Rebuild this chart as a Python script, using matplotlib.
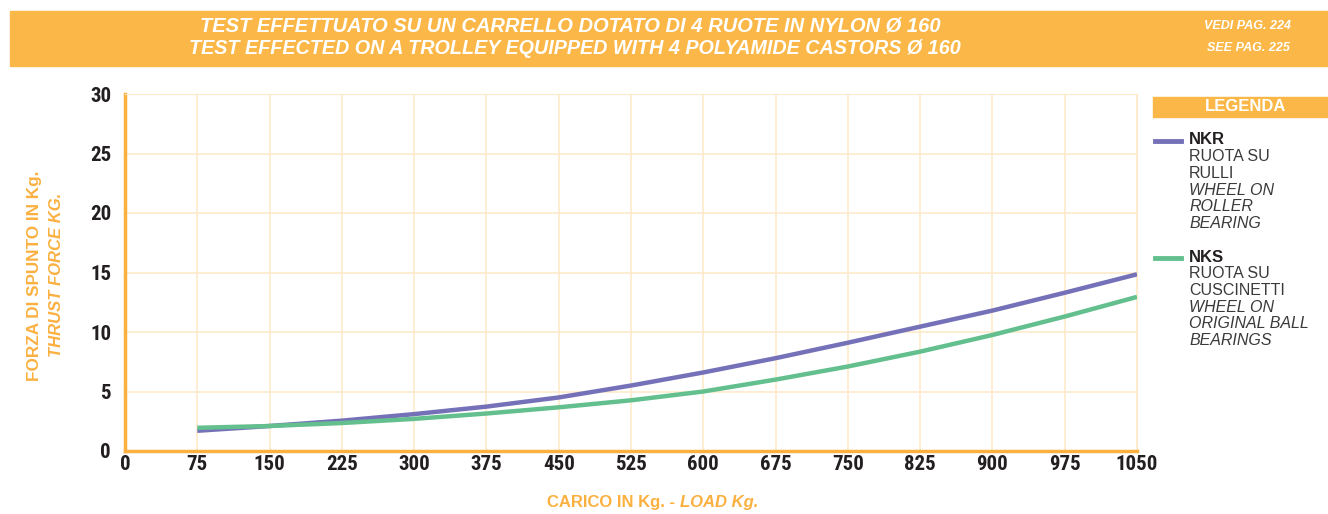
import matplotlib.pyplot as plt
from matplotlib.patches import Rectangle

# dati
carico = [75, 150, 225, 300, 375, 450, 525, 600, 675, 750, 825, 900, 975, 1050]
nkr = [1.7, 2.1, 2.55, 3.1, 3.73, 4.5, 5.5, 6.6, 7.8, 9.1, 10.45, 11.8, 13.3, 14.85]
nks = [1.95, 2.1, 2.35, 2.7, 3.15, 3.67, 4.26, 5.0, 6.0, 7.1, 8.35, 9.75, 11.3, 12.95]
xticks = list(range(0, 1051, 75))
yticks = list(range(0, 31, 5))

ARANCIO = '#FBB848'
ASSE = '#FBB040'
GRIGLIA = '#FDEACB'
VIOLA = '#7571B9'
VERDE = '#63C08E'
COND = ['Roboto Condensed', 'Archivo Narrow', 'Liberation Sans', 'DejaVu Sans']
SANS = ['Liberation Sans', 'DejaVu Sans']

W, H = 1328, 514
fig = plt.figure(figsize=(W / 100, H / 100), dpi=100)

def fx(px):
    return px / W

def fy(py):
    return 1 - py / H

# banda titolo
fig.patches.append(Rectangle((fx(10), fy(66)), fx(W - 10), (66 - 11) / H,
                             transform=fig.transFigure, color=ARANCIO, zorder=0))
fig.text(fx(570), fy(26), 'TEST EFFETTUATO SU UN CARRELLO DOTATO DI 4 RUOTE IN NYLON Ø 160',
         color='white', fontsize=14.5, fontweight='bold', style='italic', family=SANS,
         ha='center', va='center')
fig.text(fx(575), fy(48.5), 'TEST EFFECTED ON A TROLLEY EQUIPPED WITH 4 POLYAMIDE CASTORS Ø 160',
         color='white', fontsize=14.2, fontweight='bold', style='italic', family=SANS,
         ha='center', va='center')
fig.text(fx(1248), fy(26), 'VEDI PAG. 224', color='white', fontsize=9, fontweight='bold',
         style='italic', family=SANS, ha='center', va='center')
fig.text(fx(1248), fy(48), 'SEE PAG. 225', color='white', fontsize=9, fontweight='bold',
         style='italic', family=SANS, ha='center', va='center')

ax = fig.add_axes([fx(125), fy(451), fx(1137 - 125), (451 - 94) / H])
ax.plot(carico, nkr, color=VIOLA, lw=3.2, solid_capstyle='butt', zorder=3)
ax.plot(carico, nks, color=VERDE, lw=3.2, solid_capstyle='butt', zorder=3)

ax.set_xlim(0, 1050)
ax.set_ylim(0, 30)
ax.set_xticks(xticks)
ax.set_yticks(yticks)
ax.grid(True, color=GRIGLIA, lw=1.2, zorder=0)
for lab in ax.get_xticklabels() + ax.get_yticklabels():
    lab.set_fontfamily(COND)
    lab.set_fontweight('bold')
    lab.set_fontsize(15)
    lab.set_color('#231F20')
ax.tick_params(axis='y', length=0, pad=10)
ax.tick_params(axis='x', length=0, pad=3)
ax.spines['left'].set_color(ASSE)
ax.spines['bottom'].set_color(ASSE)
ax.spines['left'].set_linewidth(2.5)
ax.spines['bottom'].set_linewidth(2.5)
ax.spines['top'].set_color(GRIGLIA)
ax.spines['right'].set_color(GRIGLIA)

# etichette assi
fig.text(fx(35), fy(276), 'FORZA DI SPUNTO IN Kg.', color=ASSE, fontsize=12.3, fontweight='bold',
         family=SANS, rotation=90, ha='center', va='center')
fig.text(fx(57), fy(275), 'THRUST FORCE KG.', color=ASSE, fontsize=12, fontweight='bold',
         style='italic', family=SANS, rotation=90, ha='center', va='center')
fig.text(fx(680), fy(502), 'CARICO IN Kg. - ', color=ASSE, fontsize=12, fontweight='bold',
         family=SANS, ha='right', va='center')
fig.text(fx(680), fy(502), 'LOAD Kg.', color=ASSE, fontsize=12, fontweight='bold',
         style='italic', family=SANS, ha='left', va='center')

# legenda
fig.patches.append(Rectangle((fx(1153), fy(117)), fx(W - 1153), 20 / H,
                             transform=fig.transFigure, color=ARANCIO, zorder=0))
fig.text(fx(1246), fy(106.5), 'LEGENDA', color='white', fontsize=12, fontweight='bold',
         family=SANS, ha='center', va='center')

voci = [
    (VIOLA, 140, 'NKR', ['RUOTA SU', 'RULLI'], ['WHEEL ON', 'ROLLER', 'BEARING']),
    (VERDE, 257, 'NKS', ['RUOTA SU', 'CUSCINETTI'], ['WHEEL ON', 'ORIGINAL BALL', 'BEARINGS']),
]
for colore, y0, nome, righe, righe_en in voci:
    fig.add_artist(plt.Line2D([fx(1155), fx(1181)], [fy(y0 + 1), fy(y0 + 1)], color=colore,
                              lw=3.5, transform=fig.transFigure))
    fig.text(fx(1189), fy(y0), nome, color='#231F20', fontsize=12, fontweight='bold',
             family=SANS, va='center')
    y = y0
    for r in righe:
        y += 16.7
        fig.text(fx(1189), fy(y), r, color='#3A3A3A', fontsize=11.5, family=SANS, va='center')
    for r in righe_en:
        y += 16.7
        fig.text(fx(1189), fy(y), r, color='#3A3A3A', fontsize=11.5, style='italic',
                 family=SANS, va='center')

fig.savefig('out.png', dpi=100)
